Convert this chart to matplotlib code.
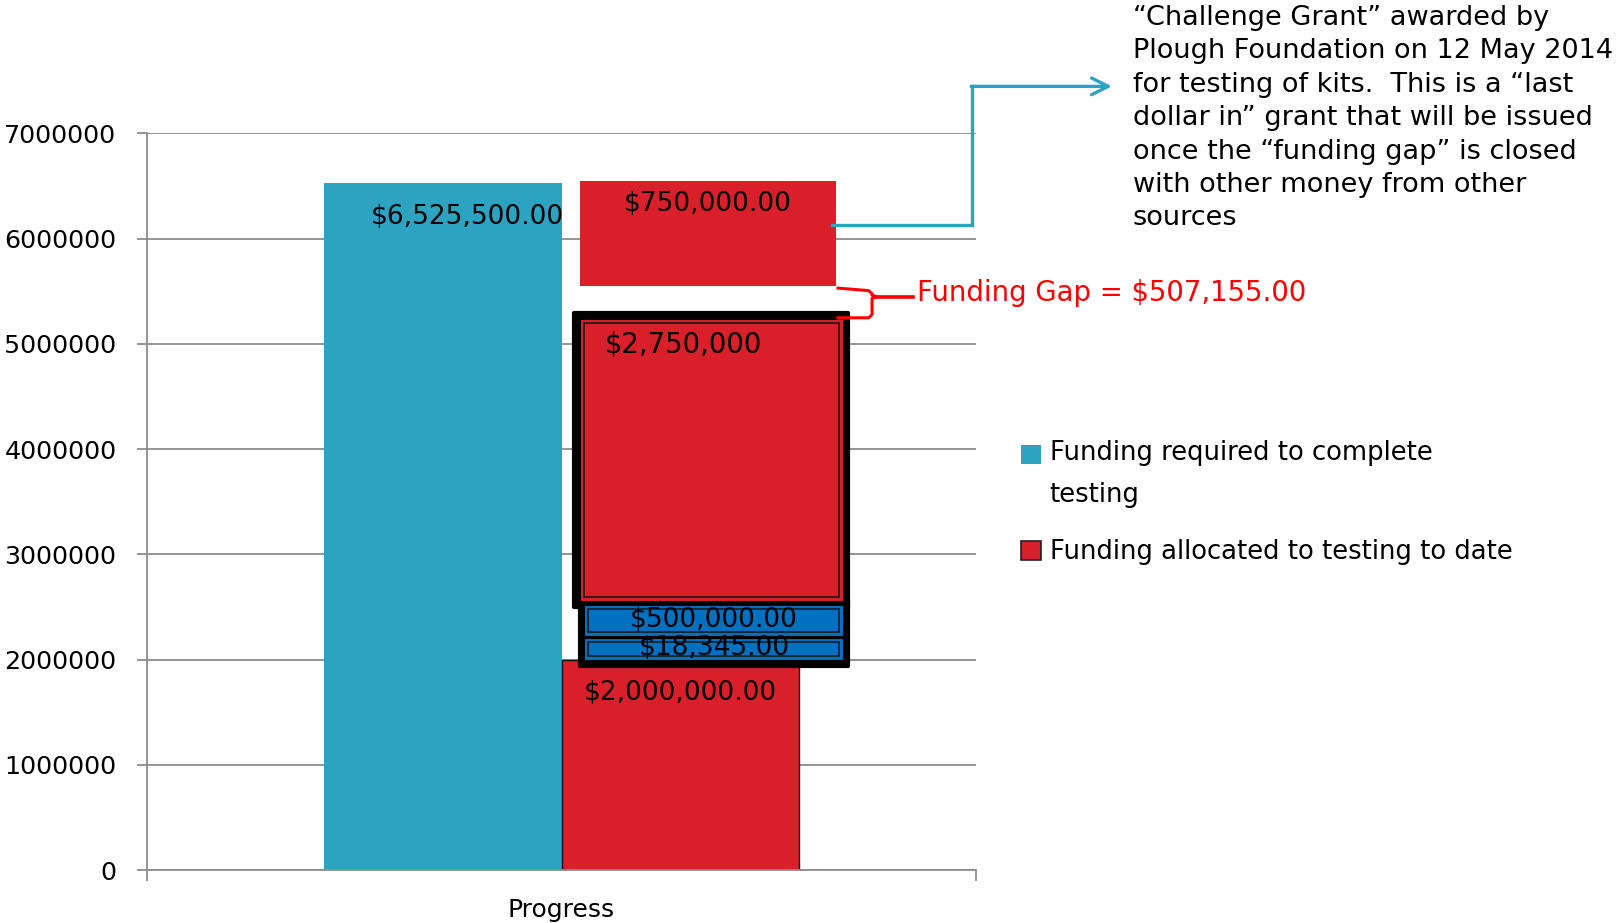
import matplotlib
matplotlib.use('Agg')
import matplotlib.pyplot as plt
import matplotlib.patheffects as pe
from matplotlib.patches import Patch, Rectangle
from matplotlib.legend_handler import HandlerPatch
from matplotlib.ticker import FuncFormatter
import numpy as np


plt.rcParams['font.family'] = ['DejaVu Sans']
plt.rcParams['font.size'] = 18


# chart data
categories = ['Progress']
funding_required = [6525500]
funding_allocated = [2000000]
series_labels = ['Funding required to complete\ntesting', 'Funding allocated to testing to date']

# hand-drawn call-out boxes on top of the allocated bar (value, drawn bottom, drawn top)
pledge_values = [18345, 500000, 2750000]
pledge_bottoms = [2034000, 2262000, 2595000]
pledge_tops = [2167000, 2481000, 5200000]
pledge_colors = ['#0070c0', '#0070c0', '#d91f2a']
frame_bottoms = [1939000, 2500000]
frame_tops = [2567000, 5295000]
grant_value = 750000
grant_bottom = 5545000
grant_top = 6549000

grant_note = ('\u201cChallenge Grant\u201d awarded by\n'
              'Plough Foundation on 12 May 2014\n'
              'for testing of kits.  This is a \u201clast\n'
              'dollar in\u201d grant that will be issued\n'
              'once the \u201cfunding gap\u201d is closed\n'
              'with other money from other\n'
              'sources')

funding_gap = funding_required[0] - funding_allocated[0] - sum(pledge_values) - grant_value

blue = '#2ca3c1'
red = '#d91f2a'
grid_grey = '#8c8c8c'
label_size = 19

fig = plt.figure(figsize=(16.16, 9.23), dpi=100)
ax = fig.add_axes([147 / 1616, 1 - 870 / 923, 829 / 1616, (870 - 133.3) / 923])

width = 0.286
x = np.arange(len(categories))
ax.bar(x - width / 2, funding_required, width, color=blue, zorder=2)
ax.bar(x + width / 2, funding_allocated, width, color=red, edgecolor='#111111', linewidth=1, zorder=2)

# black frames behind the pledge boxes
frame_left = [0.0223, 0.0151]
frame_right = 0.3456
for fl, fb, ft in zip(frame_left, frame_bottoms, frame_tops):
    ax.bar((fl + frame_right) / 2, ft - fb, frame_right - fl, bottom=fb, color='black',
           edgecolor='black', linewidth=3, joinstyle='round', zorder=3)

pledge_left = [0.0320, 0.0320, 0.0271]
pledge_right = [0.3353, 0.3353, 0.3346]
for v, b, t, c, l, r in zip(pledge_values, pledge_bottoms, pledge_tops, pledge_colors, pledge_left, pledge_right):
    box = ax.bar((l + r) / 2, t - b, r - l, bottom=b, color=c, edgecolor='#1a1a1a', linewidth=1.2, zorder=4)
    for p in box:
        p.set_path_effects([pe.Stroke(linewidth=5, foreground=c), pe.Normal()])

# grant box
g_left, g_right = 0.0223, 0.331
ax.bar((g_left + g_right) / 2, grant_top - grant_bottom, g_right - g_left, bottom=grant_bottom,
       color=red, zorder=4)

# labels
ax.text(-0.114, 6200000, f'${funding_required[0]:,.2f}', ha='center', va='center', fontsize=label_size, zorder=6)
ax.text(x[0] + width / 2, 1680000, f'${funding_allocated[0]:,.2f}', ha='center', va='center',
        fontsize=label_size, zorder=6)
ax.text(0.1767, 6330000, f'${grant_value:,.2f}', ha='center', va='center', fontsize=label_size, zorder=6)
ax.text(0.1466, 4985000, f'${pledge_values[2]:,}', ha='center', va='center', fontsize=19.8, zorder=6)
ax.text(0.184, 2375000, f'${pledge_values[1]:,.2f}', ha='center', va='center', fontsize=label_size, zorder=6)
ax.text(0.184, 2105000, f'${pledge_values[0]:,.2f}', ha='center', va='center', fontsize=label_size, zorder=6)

# arrow from grant box to note
arrow_c = '#2ca3c3'
arrow_y0 = 6131000
arrow_y1 = 7446000
ax.plot([g_right - 0.005, 0.4952, 0.4952], [arrow_y0, arrow_y0, arrow_y1], color=arrow_c,
        lw=2.4, clip_on=False, zorder=5, solid_joinstyle='miter')
ax.annotate('', xy=(0.664, arrow_y1), xytext=(0.4940, arrow_y1), annotation_clip=False,
            arrowprops=dict(arrowstyle='->', color=arrow_c, lw=2.4, mutation_scale=30,
                            shrinkA=0, shrinkB=0))
fig.text(1133 / 1616, 1 - 5 / 923, grant_note, ha='left', va='top', linespacing=1.37, fontsize=19.5)

# funding gap brace
gap_top = grant_bottom
gap_bot = 5247000
gap_mid = 5447000
bx0, bx1, bx2 = 0.3335, 0.3746, 0.3806
brace_x = [bx0, bx1 - 0.004, bx1, bx1, bx2, bx1, bx1, bx1 - 0.004, bx0]
brace_y = [gap_top - 16000, gap_top - 40000, gap_top - 70000, gap_mid + 15000, gap_mid,
           gap_mid - 15000, gap_bot + 30000, gap_bot, gap_bot]
ax.plot(brace_x, brace_y, color='#ff0000', lw=2.2, clip_on=False, zorder=6)
ax.plot([bx2, 0.424], [gap_mid, gap_mid], color='#ff0000', lw=2.6, clip_on=False, zorder=6)
ax.text(0.4289, gap_mid + 35000, f'Funding Gap = ${funding_gap:,.2f}', color='#ff0000', ha='left',
        va='center', fontsize=19.8, clip_on=False)

# axes styling
ax.set_xlim(-0.5, 0.5)
ax.set_ylim(0, 7000000)
ax.set_yticks(np.arange(0, 7000001, 1000000))
ax.yaxis.set_major_formatter(FuncFormatter(lambda v, pos: f'{v:.0f}'))
ax.grid(axis='y', color=grid_grey, lw=1.3, zorder=0)
ax.set_axisbelow(True)
ax.set_xticks([-0.5, 0.5])
ax.set_xticklabels(['', ''])
ax.set_xticks(x, categories, minor=True)
ax.tick_params(axis='x', which='minor', length=0, pad=20)
ax.tick_params(axis='x', which='major', length=8, color=grid_grey, width=1.3)
ax.tick_params(axis='y', length=7, color=grid_grey, width=1.3, pad=15, labelsize=18.3)
for side in ['top', 'right']:
    ax.spines[side].set_visible(False)
for side in ['left', 'bottom']:
    ax.spines[side].set_color(grid_grey)
    ax.spines[side].set_linewidth(1.3)


def top_square(legend, orig_handle, xdescent, ydescent, width, height, fontsize):
    # put the square next to the first line of a wrapped label
    return Rectangle((-xdescent, -ydescent + 15), width, height)


req_patch = Patch(facecolor=blue, label=series_labels[0])
alloc_patch = Patch(facecolor=red, edgecolor='#222222', linewidth=1.2, label=series_labels[1])
leg = ax.legend(handles=[req_patch, alloc_patch], loc='upper left',
                bbox_to_anchor=(998 / 1616, 1 - 417 / 923), bbox_transform=fig.transFigure,
                frameon=False, handlelength=0.75, handleheight=0.75, handletextpad=0.35,
                labelspacing=1.2, fontsize=18.6,
                handler_map={req_patch: HandlerPatch(patch_func=top_square)})
leg.get_texts()[0].set_linespacing(1.8)

fig.savefig('out.png', dpi=100)
